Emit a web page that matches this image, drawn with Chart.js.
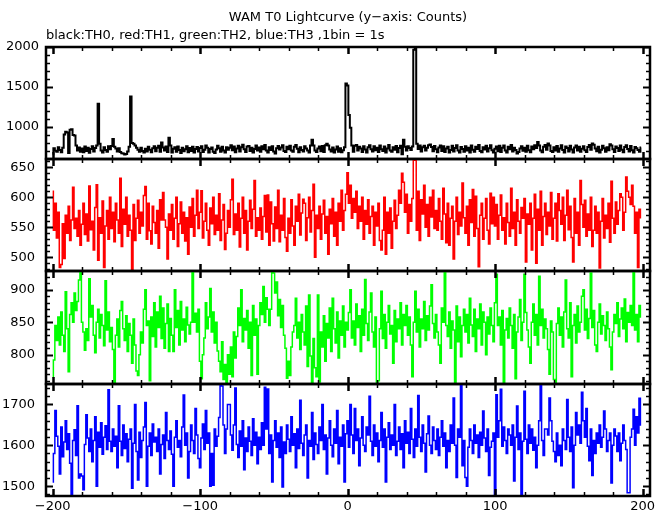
<!DOCTYPE html>
<html><head><meta charset="utf-8">
<script src="https://cdn.jsdelivr.net/npm/chart.js@4.4.1/dist/chart.umd.min.js"></script>
<style>
html,body{margin:0;padding:0;background:#fff;}
#wrap{position:relative;width:669px;height:515px;background:#fff;}
canvas{position:absolute;left:0;top:0;}
</style></head><body>
<div id="wrap">
<canvas id="c0" width="669" height="515"></canvas>
<canvas id="c1" width="669" height="515"></canvas>
<canvas id="c2" width="669" height="515"></canvas>
<canvas id="c3" width="669" height="515"></canvas>
</div>
<script>
// time axis: bins of 1 s starting at T0-200 s
const timeStart = -200;
const binSize = 1;

// TH0 (black)
const th0 = [
660,735,702,690,748,712,684,742,905,940,930,675,965,972,900,895,770,705,745,690,
730,685,755,700,742,678,725,760,694,738,770,1290,790,705,680,748,712,690,758,722,
762,850,752,730,694,735,688,672,668,655,662,695,752,1380,800,790,770,742,716,690,
742,700,680,728,694,752,716,684,735,760,698,740,765,690,805,745,705,756,688,865,
768,680,728,748,692,755,712,676,742,696,722,760,684,738,700,752,680,725,750,694,
738,760,688,716,770,742,682,724,745,692,675,718,765,734,690,752,706,680,748,715,
742,772,708,755,684,730,765,694,748,778,722,688,755,762,700,740,682,725,770,705,
745,690,758,722,775,705,680,748,712,760,694,668,735,762,718,745,772,700,686,752,
722,765,705,690,752,775,728,684,748,712,694,760,730,705,682,768,840,770,705,686,
730,755,698,762,688,772,790,768,720,695,745,680,718,755,690,735,684,710,748,1545,
1520,1150,990,770,690,765,775,705,752,730,688,760,718,682,748,772,722,694,758,708,
740,688,768,722,700,755,680,730,775,705,690,748,716,762,684,738,765,660,842,752,
705,760,738,712,755,1965,1975,790,725,770,694,748,765,705,740,772,780,750,698,762,
722,684,745,770,700,758,688,730,752,680,712,765,694,738,772,705,682,750,725,690,
760,705,740,680,768,716,690,752,726,775,700,684,748,718,765,694,735,772,708,682,
728,755,698,765,686,742,770,705,680,752,722,775,694,740,712,668,688,730,758,704,
740,690,766,708,684,755,722,772,738,812,770,705,684,752,776,716,795,770,700,688,
748,705,762,692,730,772,712,680,755,738,694,766,720,682,745,770,706,752,690,728,
760,708,688,750,775,716,795,778,730,698,752,680,715,765,735,692,748,710,785,768,
722,686,755,738,700,768,716,684,750,772,725,694,762,708,682,750,735,712,690,745
];

// TH1 (red)
const th1 = [
610,545,590,532,575,483,488,556,498,570,540,585,528,562,617,548,565,535,578,520,
555,590,538,572,527,619,546,560,512,583,621,495,566,540,594,483,552,578,530,600,
548,575,526,590,562,540,632,518,580,555,600,535,570,545,470,588,528,565,595,540,
575,552,603,618,530,590,544,522,585,558,540,578,515,596,562,608,562,550,497,572,
545,588,530,565,600,518,556,592,540,575,527,566,505,584,550,598,535,570,612,548,
575,611,532,560,590,545,520,582,556,600,538,570,545,606,528,562,588,513,540,578,
550,596,630,538,572,545,590,517,565,600,540,578,512,560,595,548,580,628,535,566,
545,582,530,568,603,542,604,520,592,556,527,584,548,612,526,570,545,598,533,510,
565,540,596,552,520,585,560,605,537,574,597,590,528,566,600,542,578,622,500,570,
548,585,530,572,595,540,568,505,580,556,598,535,575,520,590,560,612,545,578,605,
641,590,620,565,598,575,610,548,585,560,600,530,578,555,596,540,568,585,520,575,
552,590,528,512,545,600,505,575,540,582,515,560,595,548,570,612,590,640,625,575,
605,540,588,560,598,662,670,545,610,528,596,572,620,550,588,535,600,567,612,548,
578,545,598,560,530,615,572,524,590,520,565,585,497,560,600,538,575,552,624,566,
540,585,520,596,558,613,535,602,548,484,570,590,530,565,598,545,522,607,556,600,
552,588,530,570,604,545,566,522,590,558,535,615,548,575,520,596,560,540,583,565,
598,492,572,555,590,512,565,605,490,580,545,610,520,568,590,538,575,552,608,530,
565,590,527,606,578,555,600,528,570,612,546,585,533,492,598,540,575,520,628,588,
550,595,535,572,545,600,518,545,585,540,575,482,560,598,532,570,548,590,525,627,
565,540,592,555,578,606,600,545,575,634,610,600,588,620,585,540,575,483,580,566
];

// TH2 (green)
const th2 = [
765,792,845,822,858,815,866,830,805,897,840,774,862,880,850,895,868,882,915,928,
850,835,807,840,822,917,858,876,830,803,850,870,826,862,845,814,914,838,866,820,
842,808,756,830,855,812,868,882,840,822,860,805,848,830,787,855,815,775,768,800,
835,818,870,900,845,852,760,858,828,880,812,866,842,890,825,872,810,848,878,805,
856,830,805,900,842,868,815,882,838,855,820,873,846,832,850,929,850,864,835,870,
790,763,800,826,880,840,858,902,835,866,818,850,806,790,774,820,762,785,756,800,
770,812,766,835,795,828,872,845,900,820,856,838,868,810,850,768,876,830,855,770,
845,880,862,905,850,888,870,845,870,929,926,895,912,860,885,842,876,830,810,764,
790,768,812,835,845,887,826,850,808,862,835,815,875,782,892,798,756,825,780,766,
892,758,835,812,860,790,848,826,872,805,887,840,818,866,795,852,830,875,812,850,
838,865,900,826,852,815,878,842,860,805,870,830,916,848,822,866,895,835,812,858,
756,760,840,898,825,862,810,850,876,832,845,787,868,820,855,840,880,815,862,845,
876,830,858,815,766,850,898,835,870,812,855,840,882,822,860,838,875,908,848,826,
862,835,815,787,872,850,929,845,828,866,810,852,838,756,875,820,858,797,845,870,
835,862,818,887,846,828,870,805,855,840,878,815,866,850,800,858,832,872,845,820,
880,924,845,858,815,868,756,838,856,826,872,845,810,862,763,835,858,885,822,850,
924,865,838,812,787,850,878,830,862,815,921,845,870,826,855,840,808,770,852,835,
762,757,848,872,830,858,812,866,915,840,826,880,766,845,862,818,875,835,850,890,
900,838,870,825,856,926,842,868,815,805,850,878,832,860,845,822,866,840,812,777,
835,862,848,880,828,855,872,840,886,820,865,850,876,845,929,838,862,820,876,858
];

// TH3 (blue)
const th3 = [
1510,1580,1685,1622,1598,1530,1645,1572,1608,1660,1590,1628,1556,1476,1612,1638,1575,1697,1520,1530,
1525,1491,1602,1675,1618,1585,1640,1560,1612,1670,1500,1632,1595,1655,1578,1620,1648,1590,1736,1610,
1585,1640,1598,1622,1545,1697,1610,1575,1650,1592,1628,1560,1615,1640,1495,1605,1700,1585,1515,1632,
1570,1612,1645,1705,1500,1598,1630,1575,1652,1608,1620,1585,1640,1530,1602,1625,1568,1680,1612,1590,
1635,1578,1500,1620,1660,1595,1612,1572,1645,1723,1600,1630,1520,1585,1650,1612,1580,1690,1625,1568,
1545,1618,1652,1590,1685,1605,1630,1500,1580,1502,1640,1598,1622,1668,1750,1745,1650,1580,1640,1700,
1700,1625,1588,1650,1740,1602,1570,1635,1598,1660,1540,1618,1585,1645,1610,1575,1665,1600,1632,1555,
1620,1590,1655,1600,1742,1640,1738,1580,1625,1510,1612,1660,1595,1630,1570,1645,1498,1608,1580,1650,
1615,1585,1670,1600,1628,1545,1640,1592,1710,1605,1575,1625,1650,1520,1612,1598,1680,1565,1630,1602,
1580,1645,1612,1700,1590,1625,1530,1618,1660,1600,1572,1640,1605,1685,1555,1620,1598,1650,1510,1628,
1660,1595,1700,1625,1580,1690,1612,1640,1550,1618,1670,1600,1585,1645,1625,1720,1610,1575,1650,1598,
1630,1560,1612,1680,1595,1640,1510,1620,1655,1590,1625,1600,1700,1575,1610,1645,1590,1628,1545,1660,
1605,1632,1580,1690,1615,1570,1640,1598,1722,1620,1585,1650,1605,1535,1628,1672,1600,1580,1645,1612,
1590,1640,1575,1620,1660,1598,1630,1545,1612,1585,1650,1605,1716,1600,1521,1640,1620,1750,1550,1612,
1521,1500,1595,1640,1612,1580,1650,1605,1625,1570,1632,1600,1684,1618,1585,1640,1526,1595,1610,1630,
1476,1724,1620,1660,1737,1598,1645,1612,1580,1640,1625,1600,1650,1513,1620,1696,1590,1630,1476,1610,
1732,1615,1580,1650,1605,1640,1588,1620,1545,1600,1660,1750,1612,1575,1640,1640,1625,1716,1660,1610,
1585,1560,1630,1575,1600,1550,1640,1612,1590,1712,1620,1585,1645,1496,1600,1680,1625,1650,1605,1730,
1660,1620,1690,1598,1562,1640,1526,1612,1580,1630,1605,1650,1595,1620,1684,1640,1585,1612,1630,1508,
1600,1640,1623,1585,1630,1562,1605,1650,1612,1590,1484,1484,1620,1640,1688,1600,1670,1630,1715,1650
];

// axis ranges and tick labels
const xRange = [-204.5, 205];
const xTickLabels = [-200, -100, 0, 100, 200];
const xMinorStep = 20;
const th0Range = [600, 2000], th0Ticks = [1000, 1500, 2000];
const th1Range = [477, 664], th1Ticks = [500, 550, 600, 650];
const th2Range = [755, 929], th2Ticks = [800, 850, 900];
const th3Range = [1476, 1750], th3Ticks = [1500, 1600, 1700];

const FONT = {family: 'DejaVu Sans', size: 13, weight: 'normal'};

const panels = [
  {id:'c0', data:th0, color:'#000000', width:2, range:th0Range, ticks:th0Ticks, minor:100, major:500, top:0, bottom:356, lpad:7, title:true},
  {id:'c1', data:th1, color:'#ff0000', width:1.5, range:th1Range, ticks:th1Ticks, minor:10, major:50, top:159, bottom:244, lpad:11},
  {id:'c2', data:th2, color:'#00ff00', width:1.5, range:th2Range, ticks:th2Ticks, minor:10, major:50, top:271, bottom:131, lpad:11},
  {id:'c3', data:th3, color:'#0000ff', width:1.5, range:th3Range, ticks:th3Ticks, minor:20, major:100, top:384, bottom:0, lpad:11, xaxis:true}
];

function seg(ctx, x1, y1, x2, y2){ ctx.beginPath(); ctx.moveTo(x1,y1); ctx.lineTo(x2,y2); ctx.stroke(); }

const framePlugin = {
  id: 'frame',
  afterDatasetsDraw(chart, args, o) {
    const {ctx, chartArea: a} = chart;
    const xs = chart.scales.x, ys = chart.scales.y;
    ctx.save();
    ctx.strokeStyle = '#000';
    ctx.lineWidth = 2.5;
    ctx.strokeRect(a.left, a.top, a.right - a.left, a.bottom - a.top);
    for (let v = xTickLabels[0]; v <= xTickLabels[xTickLabels.length-1]; v += xMinorStep) {
      const px = Math.round(xs.getPixelForValue(v)) + 0.5;
      const major = xTickLabels.includes(v);
      const len = major ? 7 : 4;
      ctx.lineWidth = major ? 2.5 : 1.5;
      seg(ctx, px, a.top, px, a.top + len);
      seg(ctx, px, a.bottom, px, a.bottom - len);
    }
    const st = o.minor, mj = o.major;
    for (let v = Math.ceil(ys.min / st) * st; v <= ys.max; v += st) {
      const py = Math.round(ys.getPixelForValue(v)) + 0.5;
      const major = (v % mj) === 0;
      const len = major ? 7 : 4;
      ctx.lineWidth = major ? 2 : 1.5;
      seg(ctx, a.left, py, a.left + len, py);
      seg(ctx, a.right, py, a.right - len, py);
    }
    ctx.restore();
  }
};

panels.forEach(p => {
  const pts = p.data.map((v, i) => ({x: timeStart + i * binSize, y: v}));
  const cfg = {
    type: 'line',
    data: { datasets: [{ data: pts, borderColor: p.color, borderWidth: p.width, pointRadius: 0,
      stepped: 'middle', fill: false, tension: 0 }] },
    options: {
      responsive: false, animation: false, events: [], devicePixelRatio: 1,
      layout: { autoPadding: false, padding: {left: 0, right: 19, top: p.top, bottom: p.bottom} },
      plugins: {
        legend: {display: false}, tooltip: {enabled: false},
        frame: {minor: p.minor, major: p.major},
        title: p.title ? { display: true, text: 'WAM T0 Lightcurve (y\u2212axis: Counts)', fullSize: false,
          color: '#000', font: FONT, padding: {top: 10, bottom: 2} } : {display: false},
        subtitle: p.title ? { display: true, text: 'black:TH0, red:TH1, green:TH2, blue:TH3 ,1bin = 1s',
          align: 'start', fullSize: false, color: '#000', font: FONT, padding: {top: 0, bottom: 3.8} } : {display: false}
      },
      scales: {
        x: p.xaxis ? {
          type: 'linear', min: xRange[0], max: xRange[1], position: 'bottom',
          afterFit(s) { s.height = 19; },
          afterBuildTicks(s) { s.ticks = xTickLabels.map(v => ({value: v})); },
          grid: {display: false, drawTicks: false}, border: {display: false},
          ticks: { color: '#000', font: FONT, padding: 3, maxRotation: 0, autoSkip: false,
            callback: v => String(v).replace('-', '\u2212') }
        } : { type: 'linear', min: xRange[0], max: xRange[1], display: false },
        y: {
          type: 'linear', min: p.range[0], max: p.range[1],
          afterFit(s) { s.width = 46; },
          afterBuildTicks(s) { s.ticks = p.ticks.map(v => ({value: v})); },
          grid: {display: false, drawTicks: false}, border: {display: false},
          ticks: { color: '#000', font: FONT, padding: p.lpad, autoSkip: false,
            callback: v => String(v) }
        }
      }
    },
    plugins: [framePlugin]
  };
  new Chart(document.getElementById(p.id), cfg);
});
</script>
</body></html>
